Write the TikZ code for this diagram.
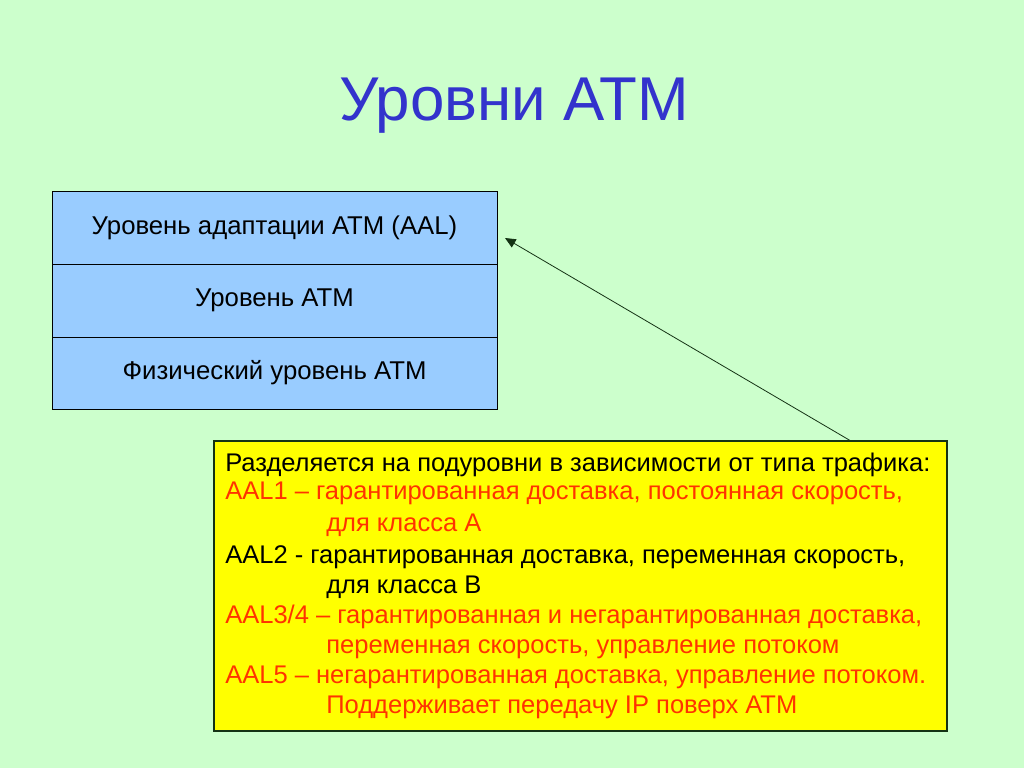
\documentclass[tikz,border=0pt]{standalone}
\usepackage{fontspec}
\setmainfont{Liberation Sans}
\usetikzlibrary{arrows.meta}
\definecolor{bg}{RGB}{204,255,204}
\definecolor{titleblue}{RGB}{51,51,204}
\definecolor{layerblue}{RGB}{153,204,255}
\definecolor{noteyellow}{RGB}{255,255,0}
\definecolor{notered}{RGB}{255,51,0}
\definecolor{linedark}{RGB}{20,50,20}
\tikzset{
  layer/.style={draw=black, line width=0.6pt, fill=layerblue, minimum width=333.75pt, minimum height=54.75pt, inner sep=0pt, font=\fontsize{19.3}{22}\selectfont},
  notebox/.style={draw=linedark, line width=0.8pt, fill=noteyellow, minimum width=549.75pt, minimum height=217.5pt, inner sep=0pt},
  ln/.style={anchor=base west, inner sep=0pt, font=\fontsize{19.15}{22}\selectfont},
  lnred/.style={ln, text=notered},
  conn/.style={draw=linedark, line width=0.6pt, -{Triangle[length=8pt,width=7pt]}}
}
\begin{document}
\begin{tikzpicture}[x=0.75pt,y=-0.75pt]
\fill[bg] (0,0) rectangle (1024,768);
\useasboundingbox (0,0) rectangle (1024,768);
\node[text=titleblue, font=\fontsize{46.4}{50}\selectfont, anchor=base, inner sep=0pt] (title) at (514,120) {Уровни АТМ};
\node[layer] (aal) at (274.5,227.5) {Уровень адаптации АТМ (AAL)};
\node[layer] (atm) at (274.5,300.5) {Уровень АТМ};
\node[layer, minimum height=54pt] (phy) at (274.5,373) {Физический уровень АТМ};
\node[notebox] (note) at (580.5,586) {};
\node[ln] (l1) at (225,471) {Разделяется на подуровни в зависимости от типа трафика:};
\node[lnred] (l2) at (225,499) {AAL1 – гарантированная доставка, постоянная скорость,};
\node[lnred] (l3) at (326,531) {для класса А};
\node[ln] (l4) at (225,563) {AAL2 - гарантированная доставка, переменная скорость,};
\node[ln] (l5) at (326,593) {для класса В};
\node[lnred] (l6) at (225,623) {AAL3/4 – гарантированная и негарантированная доставка,};
\node[lnred] (l7) at (326,653) {переменная скорость, управление потоком};
\node[lnred] (l8) at (225,683) {AAL5 – негарантированная доставка, управление потоком.};
\node[lnred] (l9) at (326,713) {Поддерживает передачу IP поверх АТМ};
\coordinate (ax) at (850,0);
\coordinate (aend) at (505,238);
\draw[conn] (note.north -| ax) -- (aend);
\end{tikzpicture}
\end{document}
